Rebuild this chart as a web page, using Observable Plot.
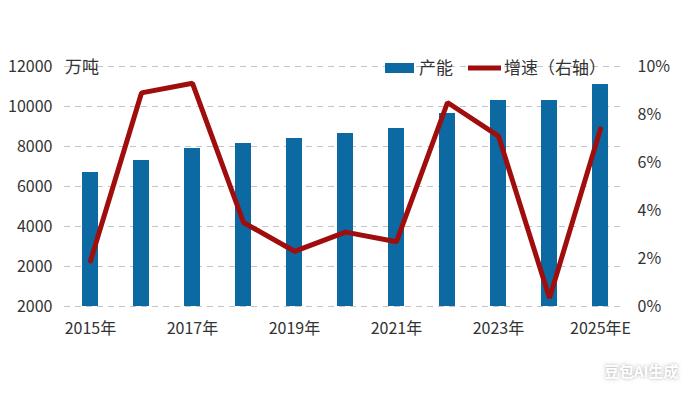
<!DOCTYPE html>
<html>
<head>
<meta charset="utf-8">
<script src="https://cdn.jsdelivr.net/npm/d3@7"></script>
<script src="https://cdn.jsdelivr.net/npm/@observablehq/plot@0.6"></script>
<style>
  body { margin: 0; background: #fff; }
  #wrap { position: relative; width: 700px; height: 393px; }
  #wm { position: absolute; left: 604px; top: 360px; font: bold 15px "Noto Sans CJK SC", sans-serif; color: #fff;
        text-shadow: 0 0 3px rgba(0,0,0,0.25), 0 0 6px rgba(0,0,0,0.12); letter-spacing: 0px; }
</style>
</head>
<body>
<div id="wrap"><div id="wm">豆包AI生成</div></div>
<script>
const years = ["2015","2016","2017","2018","2019","2020","2021","2022","2023","2024","2025E"];
const capacity = [6700, 7300, 7900, 8150, 8400, 8650, 8900, 9650, 10300, 10300, 11100];
const growthPct = [1.9, 8.9, 9.3, 3.5, 2.3, 3.1, 2.7, 8.5, 7.1, 0.35, 7.4];
const xTickYears = ["2015","2017","2019","2021","2023","2025E"];
const xTickLabels = ["2015年","2017年","2019年","2021年","2023年","2025年E"];
const leftTicks = [0, 2000, 4000, 6000, 8000, 10000, 12000];
const leftTickLabels = ["2000","2000","4000","6000","8000","10000","12000"];
const rightTicks = [0, 2, 4, 6, 8, 10];
const rightTickLabels = ["0%","2%","4%","6%","8%","10%"];
const unitLabel = "万吨";
const seriesNames = ["产能", "增速（右轴）"];

const barColor = "#0d69a2";
const lineColor = "#a00d0d";
const textColor = "#333";
const numFont = "'Liberation Sans Narrow', 'Noto Sans CJK SC', sans-serif";

// right axis maps 0..10% onto 0..12000 of the left scale
const pctToY = p => p * 1200;
const barData = years.map((y, i) => ({year: y, value: capacity[i]}));
const lineData = years.map((y, i) => ({year: y, value: pctToY(growthPct[i])}));

const legend = (index, scales, values, dims) => {
  const g = d3.create("svg:g").attr("text-anchor", "start");
  const y0 = 68;
  const cjk = "'Noto Sans CJK SC', sans-serif";
  g.append("rect").attr("x", 385).attr("y", y0 - 5).attr("width", 29).attr("height", 10).attr("fill", barColor);
  g.append("text").attr("x", 419).attr("y", y0).attr("dy", "0.35em").attr("fill", textColor)
    .attr("font-size", 17).attr("font-family", cjk).text(seriesNames[0]);
  g.append("line").attr("x1", 468).attr("x2", 501).attr("y1", y0).attr("y2", y0)
    .attr("stroke", lineColor).attr("stroke-width", 5);
  g.append("text").attr("x", 504).attr("y", y0).attr("dy", "0.35em").attr("fill", textColor)
    .attr("font-size", 17).attr("font-family", cjk).text(seriesNames[1]);
  g.append("text").attr("x", 65).attr("y", 67).attr("dy", "0.35em").attr("fill", textColor)
    .attr("font-size", 17).attr("font-family", cjk).text(unitLabel);
  return g.node();
};

const chart = Plot.plot({
  width: 700,
  height: 393,
  marginTop: 66,
  marginBottom: 87,
  marginLeft: 64,
  marginRight: 75,
  style: {background: "transparent", fontFamily: numFont, color: textColor},
  x: {type: "band", domain: years, paddingInner: 0.69, paddingOuter: 0.33, axis: null},
  y: {domain: [0, 12000], axis: null},
  marks: [
    Plot.ruleY(leftTicks, {stroke: "#c4c4c4", strokeWidth: 1.2, strokeDasharray: "6,5"}),
    Plot.barY(barData, {x: "year", y: "value", fill: barColor}),
    Plot.line(lineData, {x: "year", y: "value", stroke: lineColor, strokeWidth: 5, strokeLinejoin: "miter", strokeLinecap: "round"}),
    Plot.axisY({anchor: "left", ticks: leftTicks, tickSize: 0, tickPadding: 12,
      tickFormat: (d) => leftTickLabels[leftTicks.indexOf(d)], fontSize: 16, fill: textColor, label: null}),
    Plot.axisY({anchor: "right", ticks: rightTicks.map(pctToY), tickSize: 0, tickPadding: 12,
      tickFormat: (d) => rightTickLabels[rightTicks.map(pctToY).indexOf(d)], fontSize: 16, fill: textColor, label: null}),
    Plot.axisX({ticks: xTickYears, tickSize: 0, tickPadding: 16,
      tickFormat: (d) => xTickLabels[xTickYears.indexOf(d)], fontSize: 16, fill: textColor, label: null}),
    legend
  ]
});
document.getElementById("wrap").prepend(chart);
</script>
</body>
</html>
